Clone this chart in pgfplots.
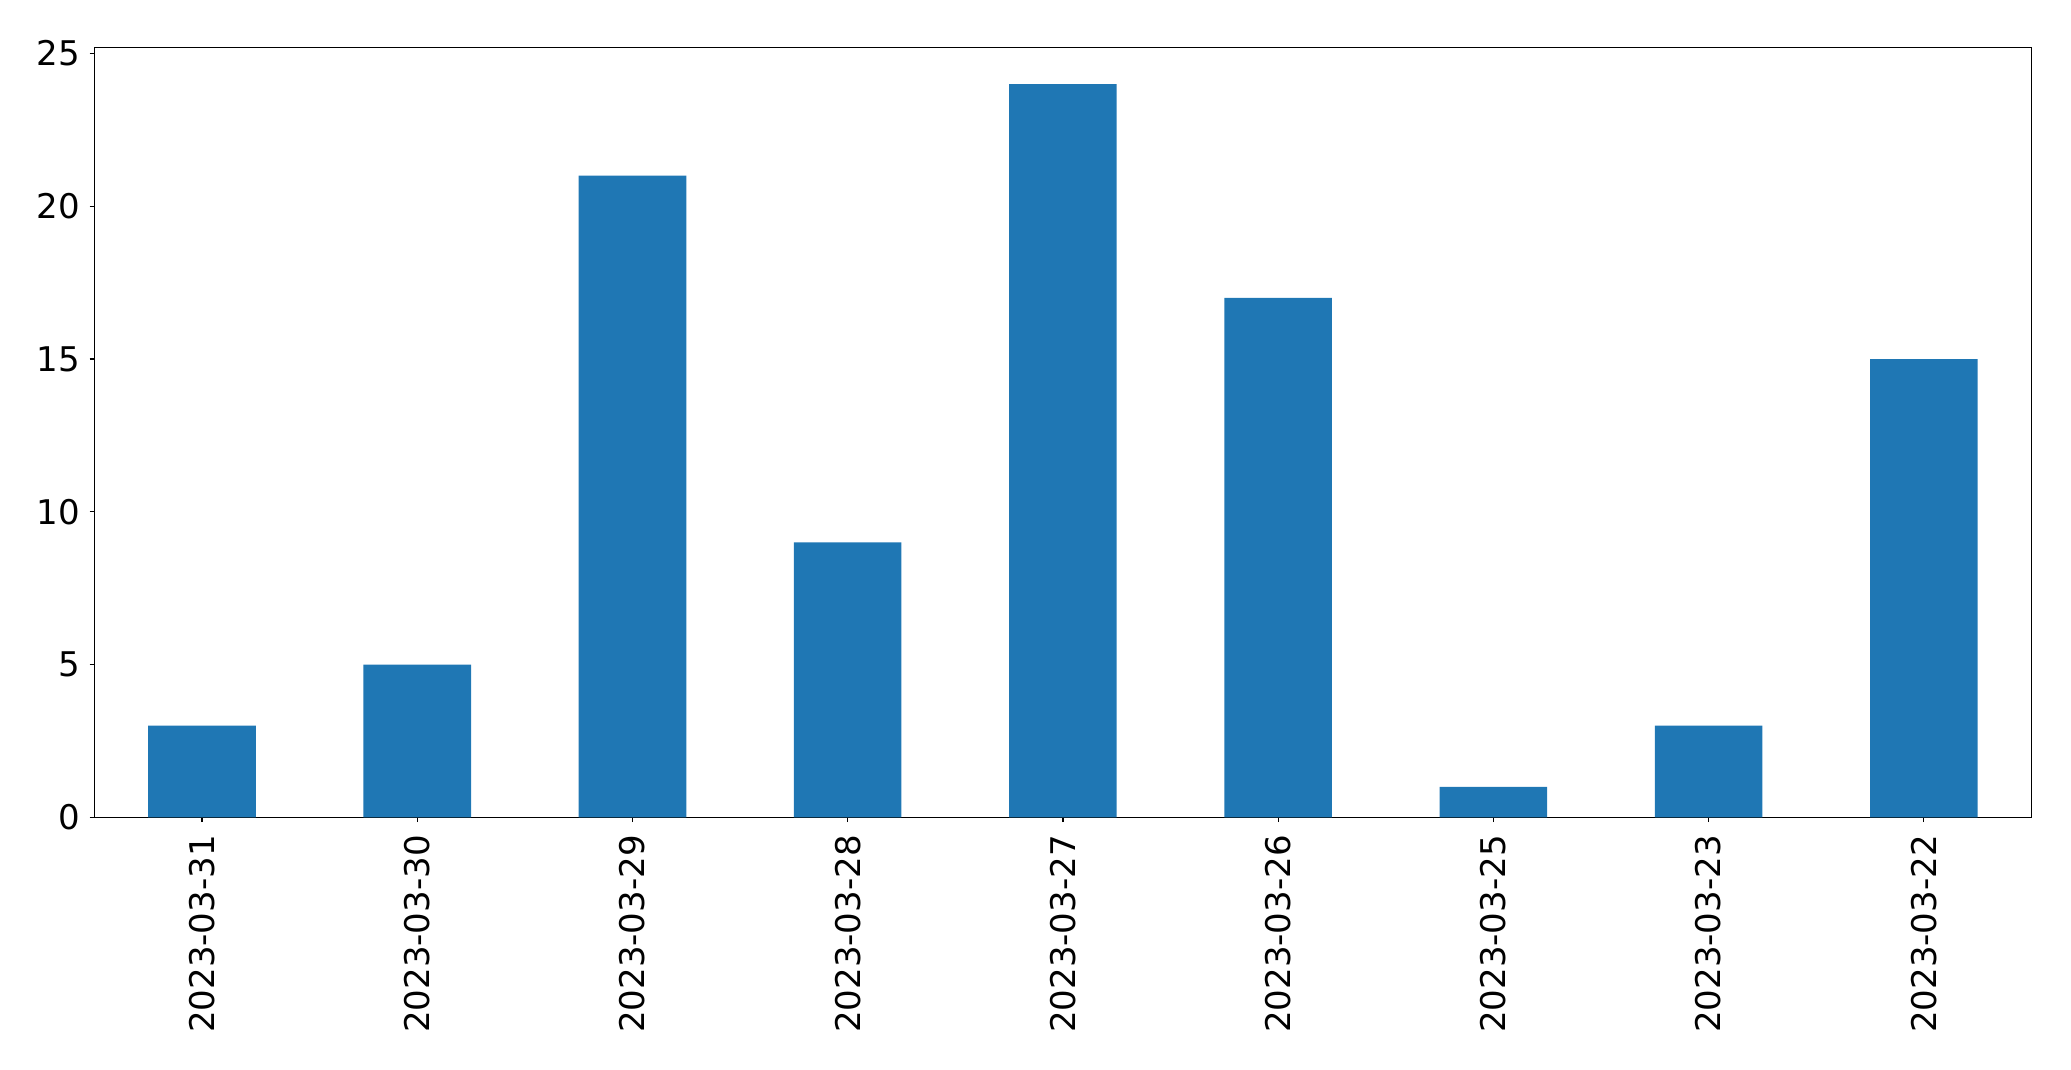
\documentclass[border=0pt]{standalone}
\usepackage{fontspec}
\setmainfont{DejaVu Sans}
\usepackage{pgfplots}
\pgfplotsset{compat=1.18}
\definecolor{mplblue}{HTML}{1F77B4}
\begin{document}
\begin{tikzpicture}
\path[use as bounding box] (-47.2pt,-126pt) rectangle (988.3pt,408.7pt);
\begin{axis}[
  at={(0,0)}, anchor=south west,
  scale only axis,
  width=968.5pt, height=385pt,
  xmin=-0.5, xmax=8.5,
  ymin=0, ymax=25.2,
  xtick=data,
  xticklabels={2023-03-31,2023-03-30,2023-03-29,2023-03-28,2023-03-27,2023-03-26,2023-03-25,2023-03-23,2023-03-22},
  x tick label style={rotate=90, anchor=east, inner sep=0pt, outer sep=0pt},
  xticklabel shift=6.5pt,
  ytick={0,5,10,15,20,25},
  y tick label style={inner sep=0pt},
  yticklabel shift=4.5pt,
  tick label style={font=\fontsize{17pt}{20pt}\selectfont},
  /pgf/number format/assume math mode=true,
  tick align=outside,
  major tick length=2.4pt,
  xtick pos=bottom, ytick pos=left,
  axis line style={line width=0.6pt},
  tick style={line width=0.6pt, black},
  ybar, bar width=0.5,
  clip=false,
]
\addplot[fill=mplblue, draw=none] coordinates {
(0,3) (1,5) (2,21) (3,9) (4,24) (5,17) (6,1) (7,3) (8,15)
};
\end{axis}
\end{tikzpicture}
\end{document}
